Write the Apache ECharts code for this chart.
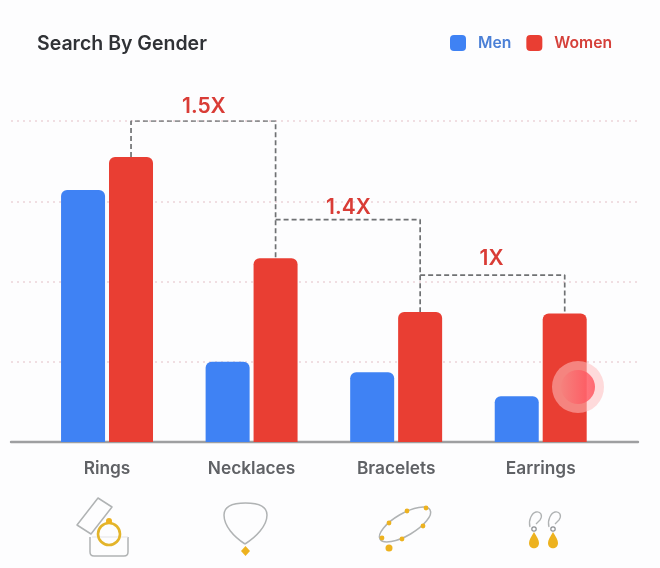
<!DOCTYPE html>
<html>
<head>
<meta charset="utf-8">
<style>
html, body { margin: 0; padding: 0; background: #fdfdfe; }
#chart { width: 660px; height: 568px; }
</style>
<script src="https://cdn.jsdelivr.net/npm/echarts@6/dist/echarts.min.js"></script>
</head>
<body>
<div id="chart"></div>
<script>
var categories = ['Rings', 'Necklaces', 'Bracelets', 'Earrings'];
var men = [3.14, 1.0, 0.87, 0.57];
var women = [3.55, 2.29, 1.62, 1.6];
// dashed brackets between the women bars, x is in category units
var bracketA = [[0.166, 3.55], [0.166, 4], [1.166, 4], [1.166, 2.29]];
var bracketB = [[1.166, 2.77], [2.166, 2.77], [2.166, 1.62]];
var bracketC = [[2.166, 2.08], [3.166, 2.08], [3.166, 1.6]];
var multipliers = [[0.67, 3.98, '1.5X'], [1.67, 2.73, '1.4X'], [2.66, 2.09, '1X']];

var BLUE = '#3f82f4';
var RED = '#e93e33';
var FONT = 'Inter, Roboto, sans-serif';
var GOLD = '#edb21f';
var GREY = '#b0b3b4';

function bracket(data) {
	return {
		type: 'line',
		xAxisIndex: 2,
		yAxisIndex: 1,
		data: data,
		symbol: 'none',
		silent: true,
		z: 1,
		lineStyle: { color: '#6f7173', width: 1.7, type: [5, 3] }
	};
}

function bead(x, y, r) {
	return { type: 'circle', shape: { cx: x, cy: y, r: r }, style: { fill: GOLD } };
}

function outline(path, color, width) {
	return { type: 'path', shape: { pathData: path }, style: { fill: 'none', stroke: color, lineWidth: width, lineJoin: 'round' } };
}

function solid(path) {
	return { type: 'path', shape: { pathData: path }, style: { fill: GOLD } };
}

var icons = [
	// ring box
	outline('M98 498 L112 507 L91 534 L77 525 Z', GREY, 1.5),
	outline('M90 537 L90 552 Q90 556 94 556 L124 556 Q128 556 128 552 L128 537', GREY, 1.5),
	outline('M92 537 L128 537', '#e3e4e5', 1.2),
	{ type: 'circle', shape: { cx: 109, cy: 534, r: 11 }, style: { fill: 'none', stroke: '#e3b42a', lineWidth: 2.6 } },
	bead(109, 521, 3),
	// necklace
	outline('M245 544 C234 537 224 526 224 515 C224 506 233 503 245.5 503 C258 503 267 506 267 515 C267 526 256 537 245 544', GREY, 1.5),
	solid('M245.5 546 L250 551 L245.5 556 L241 551 Z'),
	// bracelet
	{ type: 'ellipse', shape: { cx: 0, cy: 0, rx: 29, ry: 11 }, x: 405, y: 524.5, rotation: 0.53, style: { fill: 'none', stroke: GREY, lineWidth: 1.5 } },
	bead(407, 511, 2.4), bead(426, 508, 2.4), bead(389, 523, 2.4), bead(423, 526, 2.4), bead(402, 539, 2.4), bead(382, 538, 2.4), bead(389, 548, 3.5),
	// earrings
	outline('M530 527 C528 520 532 513 536 512 C541 511 543 516 540 520 L536 524', GREY, 1.3),
	outline('M549 527 C547 520 551 513 555 512 C560 511 562 516 559 520 L555 524', GREY, 1.3),
	{ type: 'circle', shape: { cx: 534, cy: 529, r: 2.2 }, style: { fill: 'none', stroke: '#8d9094', lineWidth: 1.2 } },
	{ type: 'circle', shape: { cx: 553, cy: 529, r: 2.2 }, style: { fill: 'none', stroke: '#8d9094', lineWidth: 1.2 } },
	solid('M534 532 C537 537 539 540 539 543 C539 550 529 550 529 543 C529 540 531 537 534 532 Z'),
	solid('M553 532 C556 537 558 540 558 543 C558 550 548 550 548 543 C548 540 550 537 553 532 Z')
];

// touch marker from the screen recording
var touch = [
	{ type: 'circle', shape: { cx: 578, cy: 387, r: 26 }, style: { fill: 'rgba(255,190,190,0.55)' } },
	{
		type: 'circle',
		shape: { cx: 578, cy: 387, r: 17 },
		style: {
			fill: new echarts.graphic.LinearGradient(0, 0, 1, 0, [
				{ offset: 0, color: 'rgba(255,85,95,0.05)' },
				{ offset: 0.7, color: 'rgba(255,85,95,0.75)' },
				{ offset: 1, color: 'rgba(255,85,95,0.85)' }
			])
		}
	}
];

var chart = echarts.init(document.getElementById('chart'));
chart.setOption({
	animation: false,
	backgroundColor: '#fdfdfe',
	title: {
		text: 'Search By Gender',
		left: 37,
		top: 34,
		padding: 0,
		textStyle: { fontFamily: FONT, fontSize: 19.5, fontWeight: 600, color: '#303236' }
	},
	legend: {
		left: 450,
		top: 35,
		padding: 0,
		icon: 'roundRect',
		itemWidth: 16,
		itemHeight: 16,
		itemGap: 15,
		selectedMode: false,
		data: [
			{ name: 'Men', textStyle: { color: '#4a7fd6' } },
			{ name: 'Women', textStyle: { color: '#d5403a' } }
		],
		textStyle: { fontFamily: FONT, fontSize: 15.7, fontWeight: 600, padding: [0, 0, 0, 7] }
	},
	grid: [
		{ left: 11, right: 22, top: 121, bottom: 126 },
		{ left: 34.75, right: 47, top: 121, bottom: 126 }
	],
	xAxis: [
		{
			gridIndex: 0,
			type: 'category',
			data: categories,
			axisLine: { lineStyle: { color: '#9e9fa1', width: 2.4 } },
			axisTick: { show: false },
			axisLabel: { show: false }
		},
		{
			gridIndex: 1,
			type: 'category',
			data: categories,
			axisLine: { show: false },
			axisTick: { show: false },
			axisLabel: { margin: 18, fontFamily: FONT, fontSize: 17.3, fontWeight: 600, color: '#5f6165' }
		},
		{ gridIndex: 1, type: 'value', min: -0.5, max: 3.5, show: false }
	],
	yAxis: [
		{
			gridIndex: 0,
			type: 'value',
			min: 0,
			max: 4,
			interval: 1,
			axisLine: { show: false },
			axisTick: { show: false },
			axisLabel: { show: false },
			splitLine: { lineStyle: { color: '#ecd3d9', width: 1.6, type: [2, 4] } }
		},
		{ gridIndex: 1, type: 'value', min: 0, max: 4, interval: 1, show: false, splitLine: { show: false } }
	],
	series: [
		{
			name: 'Men',
			type: 'bar',
			xAxisIndex: 1,
			yAxisIndex: 1,
			data: men,
			barWidth: 44,
			barGap: '9%',
			itemStyle: { color: BLUE, borderRadius: [6, 6, 0, 0] }
		},
		{
			name: 'Women',
			type: 'bar',
			xAxisIndex: 1,
			yAxisIndex: 1,
			data: women,
			barWidth: 44,
			itemStyle: { color: RED, borderRadius: [6, 6, 0, 0] }
		},
		bracket(bracketA),
		bracket(bracketB),
		bracket(bracketC),
		{
			type: 'scatter',
			xAxisIndex: 2,
			yAxisIndex: 1,
			data: multipliers,
			symbolSize: 0,
			silent: true,
			clip: false,
			itemStyle: { opacity: 1 },
			label: {
				show: true,
				position: 'top',
				distance: 5,
				formatter: function (p) { return p.value[2]; },
				fontFamily: FONT,
				fontSize: 21,
				fontWeight: 600,
				color: '#d93c36'
			}
		},
		{
			// jewellery icons and the touch marker, pixel placed
			type: 'custom',
			coordinateSystem: 'none',
			data: [0],
			silent: true,
			z: 20,
			renderItem: function () {
				return { type: 'group', children: icons.concat(touch) };
			}
		}
	]
});
</script>
</body>
</html>
